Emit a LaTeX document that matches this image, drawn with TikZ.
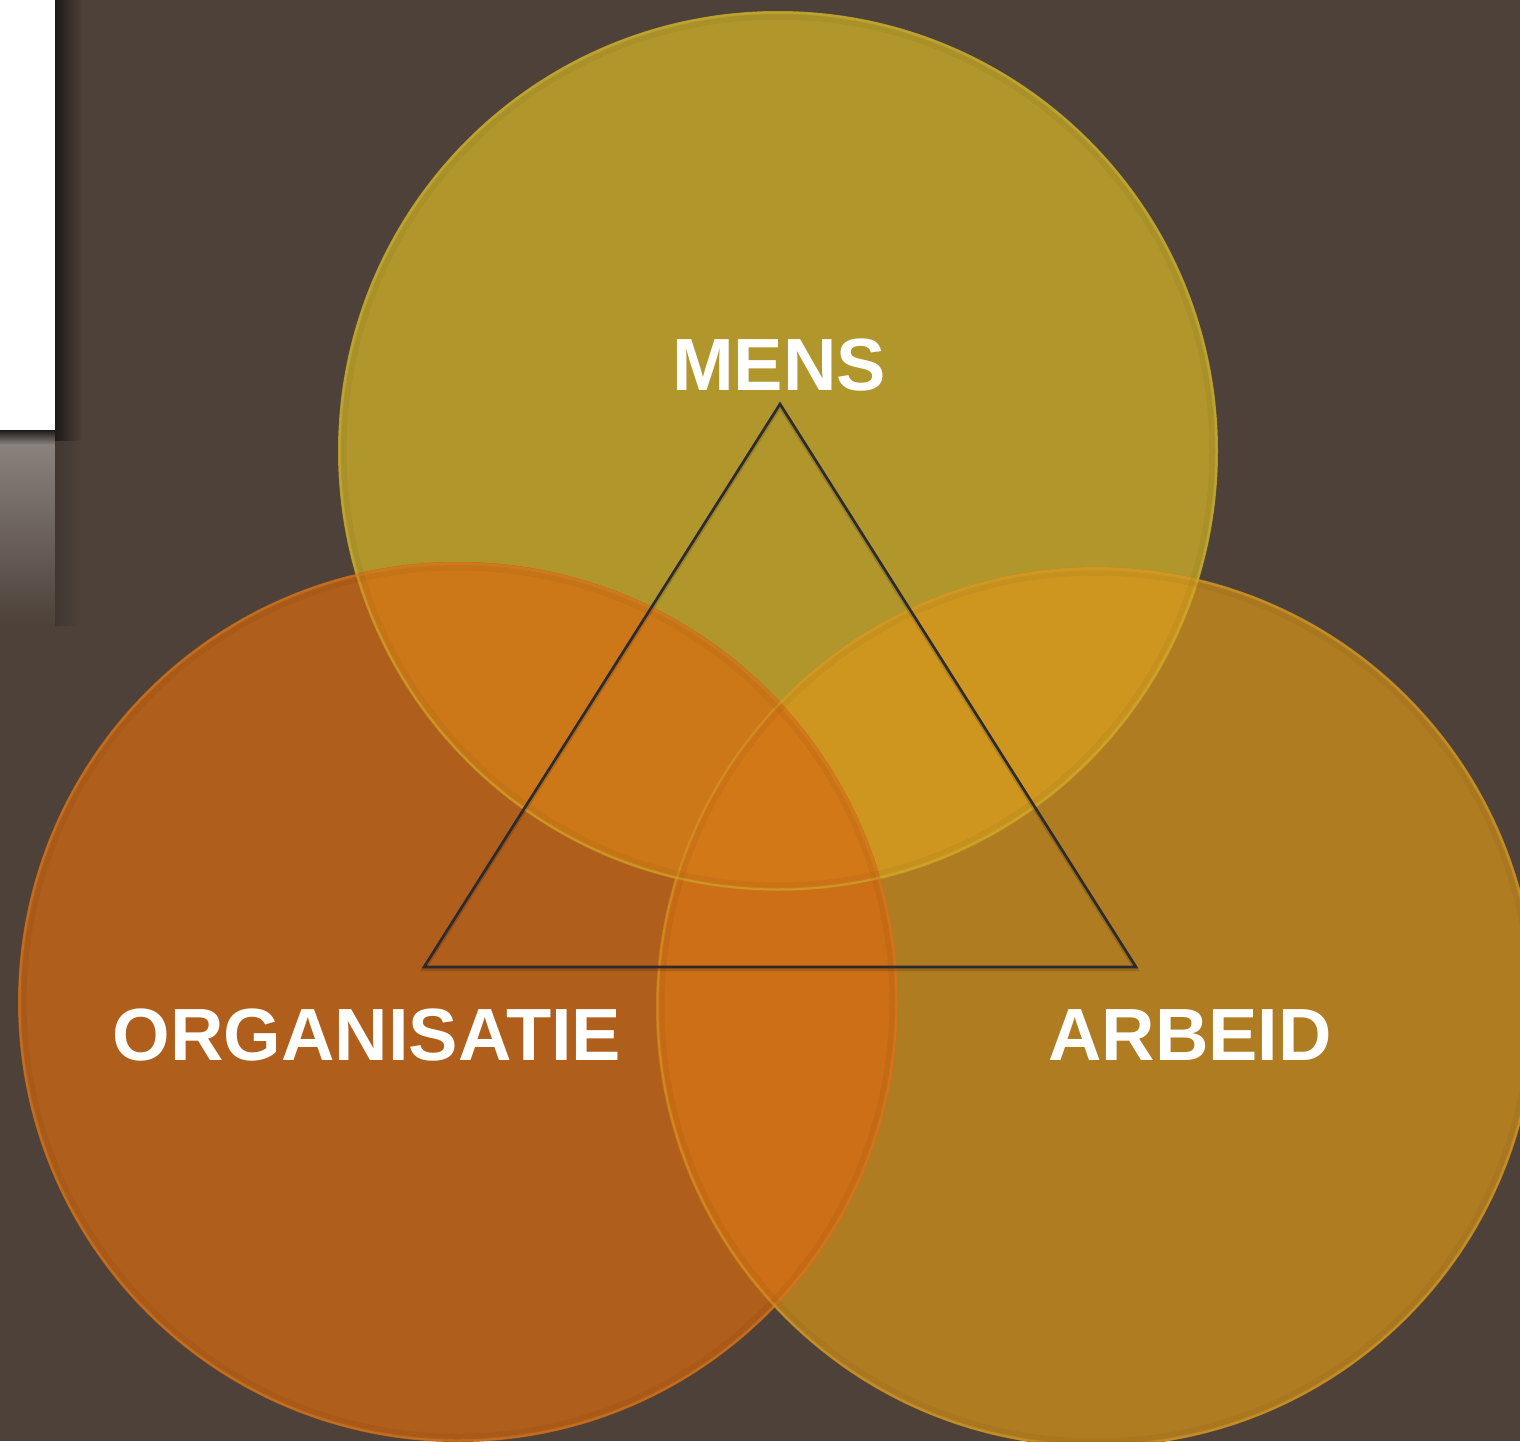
\documentclass[tikz,border=0pt]{standalone}
\usepackage{fontspec}
\setmainfont{Liberation Sans}
\definecolor{bg}{HTML}{4D4139}
\definecolor{ctop}{HTML}{B1962B}
\definecolor{cleft}{HTML}{B05E1B}
\definecolor{cright}{HTML}{B07C22}
\definecolor{ctl}{HTML}{CC7818}
\definecolor{ctr}{HTML}{CE961F}
\definecolor{clr}{HTML}{CD6F16}
\definecolor{call}{HTML}{D27817}
\definecolor{rimtop}{HTML}{C4AE34}
\definecolor{rimleft}{HTML}{D07A22}
\definecolor{rimright}{HTML}{D09A2A}
\definecolor{tri}{HTML}{2B2A2E}
\definecolor{gry}{HTML}{8C8480}
\definecolor{shd}{HTML}{1E1A17}
\tikzset{
  lbl/.style={text=white, font=\bfseries\fontsize{74}{80}\selectfont, inner sep=0pt, anchor=base},
  rim/.style={line width=2pt},
  triline/.style={draw=tri, line width=2.6pt, line join=miter},
}
\begin{document}
\begin{tikzpicture}[x=1pt,y=-1pt]
\useasboundingbox (0,0) rectangle (1520,1441);
\fill[bg] (0,0) rectangle (1520,1441);
% side panel
\shade[top color=gry, bottom color=bg] (0,438) rectangle (55,625);
\shade[top color=shd, bottom color=gry] (0,430) rectangle (55,445);
\shade[left color=bg!85!black, right color=bg] (55,440) rectangle (80,625);
\shade[left color=shd, right color=bg] (55,0) rectangle (82,440);
\fill[white] (0,0) rectangle (55,430);
% circles
\coordinate (cT) at (778,451);
\coordinate (cL) at (458,1002);
\coordinate (cR) at (1096,1007);
\def\rr{440}
\fill[ctop] (cT) circle (\rr);
\fill[cleft] (cL) circle (\rr);
\fill[cright] (cR) circle (\rr);
% overlaps
\begin{scope}
  \clip (cT) circle (\rr);
  \fill[ctl] (cL) circle (\rr);
  \fill[ctr] (cR) circle (\rr);
\end{scope}
\begin{scope}
  \clip (cL) circle (\rr);
  \fill[clr] (cR) circle (\rr);
\end{scope}
\begin{scope}
  \clip (cL) circle (\rr);
  \clip (cR) circle (\rr);
  \fill[call] (cT) circle (\rr);
\end{scope}
% rims
\draw[rim, draw=rimtop, opacity=0.6] (cT) circle (\rr-1.5);
\draw[rim, draw=rimleft, opacity=0.6] (cL) circle (\rr-1.5);
\draw[rim, draw=rimright, opacity=0.6] (cR) circle (\rr-1.5);
\draw[line width=5pt, draw=black, opacity=0.04] (cT) circle (\rr-6);
\draw[line width=5pt, draw=black, opacity=0.04] (cL) circle (\rr-6);
\draw[line width=5pt, draw=black, opacity=0.04] (cR) circle (\rr-6);
% triangle
\coordinate (tA) at (780,404);
\coordinate (tB) at (424,967);
\coordinate (tC) at (1136,967);
\draw[triline, draw=black, opacity=0.15, line width=4pt] ([yshift=-2pt]tA) -- ([yshift=-2pt]tC) -- ([yshift=-2pt]tB) -- cycle;
\draw[triline] (tA) -- (tC) -- (tB) -- cycle;
% labels
\node[lbl] (mens) at (779,390) {MENS};
\node[lbl] (org) at (367,1060) {ORGANISATIE};
\node[lbl] (arb) at (1190,1060) {ARBEID};
\end{tikzpicture}
\end{document}
